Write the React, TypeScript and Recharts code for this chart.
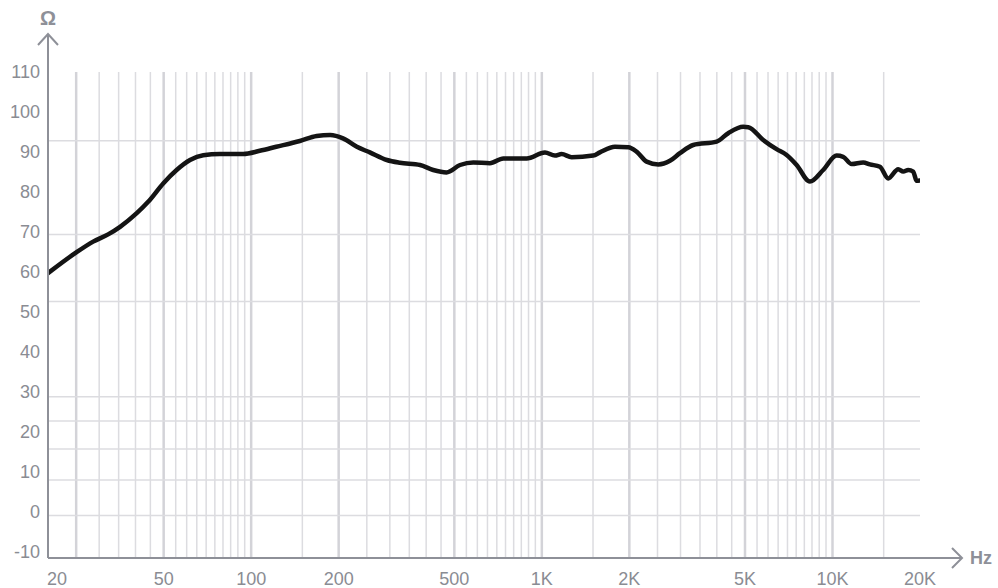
import React from 'react';
import { LineChart, Line, XAxis, YAxis, ReferenceLine } from 'recharts';

// impedance curve (Hz -> ohms)
const FREQ_HZ = [
  20, 24.8, 28.6, 32.2, 35.4, 40.4, 44.3, 49.9, 55.4, 61.6, 68.4, 78.1, 93.9, 107,
  122, 147, 168, 187, 207, 231, 256, 293, 325, 381, 423, 470, 523, 581, 663, 737,
  887, 1025, 1109, 1170, 1266, 1502, 1584, 1784, 1983, 2118, 2294, 2516, 2759, 2986,
  3318, 3995, 4378, 4930, 5130, 5776, 6422, 6952, 7527, 8362, 9290, 10332, 10886,
  11636, 12754, 13450, 14560, 15549, 16828, 17510, 18218, 18952, 19468, 20000,
];
const OHMS = [
  59.7, 64.7, 67.6, 69.4, 71.3, 74.7, 77.6, 82.2, 85.5, 88, 89.2, 89.5, 89.5, 90.3,
  91.3, 92.75, 94, 94.25, 93.4, 91.3, 89.9, 88, 87.3, 86.75, 85.5, 84.9, 86.75, 87.4,
  87.2, 88.4, 88.4, 89.9, 89.1, 89.5, 88.7, 89.1, 89.9, 91.3, 91.2, 90.1, 87.6, 86.9,
  87.8, 89.7, 91.75, 92.6, 94.7, 96.3, 96.2, 93, 90.7, 89.25, 86.75, 82.6, 85.5, 89.1,
  88.8, 87, 87.4, 86.9, 86.3, 83.4, 85.7, 85.1, 85.5, 85.1, 82.8, 82.9,
];

const X_TICKS = [20, 50, 100, 200, 500, 1000, 2000, 5000, 10000, 20000];
const X_LABELS = ['20', '50', '100', '200', '500', '1K', '2K', '5K', '10K', '20K'];
const Y_TICKS = [-10, 0, 10, 20, 30, 40, 50, 60, 70, 80, 90, 100, 110];

// horizontal grid rows (they do not sit on the labels in the original)
const H_GRID = [92.8, 69.4, 52.6, 28.8, 22.75, 15.75, 8, -0.9];
const MAJOR_GRID_HZ = [25, 50, 100, 200, 500, 1000, 2000, 5000, 10000];
const MINOR_GRID_HZ = [
  30, 35, 40, 45, 55, 60, 65, 70, 75, 80, 85, 90, 95,
  150, 250, 300, 350, 400, 450, 550, 600, 650, 700, 750, 800, 850, 900, 950,
  1500, 2500, 3000, 3500, 4000, 4500, 5500, 6000, 6500, 7000, 7500, 8000, 8500, 9000, 9500,
  15000,
];

const GRID = '#dcdce0';
const GRID_MAJOR = '#d3d3d8';
const AXIS = '#8e9098';
const TEXT = '#8a8c93';
const FONT = '"Liberation Sans", Arial, Helvetica, sans-serif';

const data = FREQ_HZ.map((hz, i) => ({ hz, ohms: OHMS[i] }));

const XTick = (props: any) => {
  const { x, y, payload } = props;
  const idx = X_TICKS.indexOf(payload.value);
  const first = idx === 0;
  return (
    <text
      x={first ? x - 1 : x}
      y={y}
      dy="0.71em"
      textAnchor={first ? 'start' : 'middle'}
      fill={TEXT}
      fontSize={18}
      fontFamily={FONT}
    >
      {X_LABELS[idx]}
    </text>
  );
};

const App = () => {
  return (
    <div style={{ position: 'relative', width: 998, height: 588, fontFamily: FONT }}>
      <style>{'body{margin:0;}'}</style>
      <LineChart width={998} height={588} data={data} margin={{ top: 72, right: 78, bottom: 0, left: 0 }}>
        {MINOR_GRID_HZ.map(hz => (
          <ReferenceLine key={`v-${hz}`} x={hz} stroke={GRID} strokeWidth={1.5} />
        ))}
        {MAJOR_GRID_HZ.map(hz => (
          <ReferenceLine key={`V-${hz}`} x={hz} stroke={GRID_MAJOR} strokeWidth={2.5} />
        ))}
        {H_GRID.map(v => (
          <ReferenceLine key={`h-${v}`} y={v} stroke={GRID} strokeWidth={1.5} />
        ))}
        <XAxis
          dataKey="hz"
          type="number"
          scale="log"
          domain={[20, 20000]}
          allowDataOverflow
          ticks={X_TICKS}
          interval={0}
          height={30}
          tickLine={false}
          tickSize={0}
          tickMargin={14}
          axisLine={{ stroke: AXIS, strokeWidth: 2 }}
          tick={<XTick />}
        />
        <YAxis
          type="number"
          domain={[-11.5, 110]}
          allowDataOverflow
          ticks={Y_TICKS}
          interval={0}
          width={48}
          tickLine={false}
          tickSize={0}
          tickMargin={8}
          axisLine={{ stroke: AXIS, strokeWidth: 2 }}
          tick={{ fill: TEXT, fontSize: 18, fontFamily: FONT }}
        />
        <Line
          type="monotone"
          dataKey="ohms"
          stroke="#141414"
          strokeWidth={4.5}
          strokeLinecap="round"
          strokeLinejoin="round"
          dot={false}
          activeDot={false}
          isAnimationActive={false}
        />
      </LineChart>
      {/* axis arrows and units */}
      <svg width={998} height={588} style={{ position: 'absolute', left: 0, top: 0, pointerEvents: 'none' }}>
        <g stroke={AXIS} strokeWidth={2} fill="none">
          <line x1={48} y1={73} x2={48} y2={34} />
          <polyline points="38,45 48,34 58,45" />
          <line x1={919} y1={558} x2={962} y2={558} />
          <polyline points="952,548 962,558 952,568" />
        </g>
        <text x={48} y={25} textAnchor="middle" fill={AXIS} fontSize={20} fontWeight="bold" fontFamily={FONT}>
          Ω
        </text>
        <text x={970} y={564} fill={AXIS} fontSize={18} fontWeight="bold" fontFamily={FONT}>
          Hz
        </text>
      </svg>
    </div>
  );
};

export default App;
